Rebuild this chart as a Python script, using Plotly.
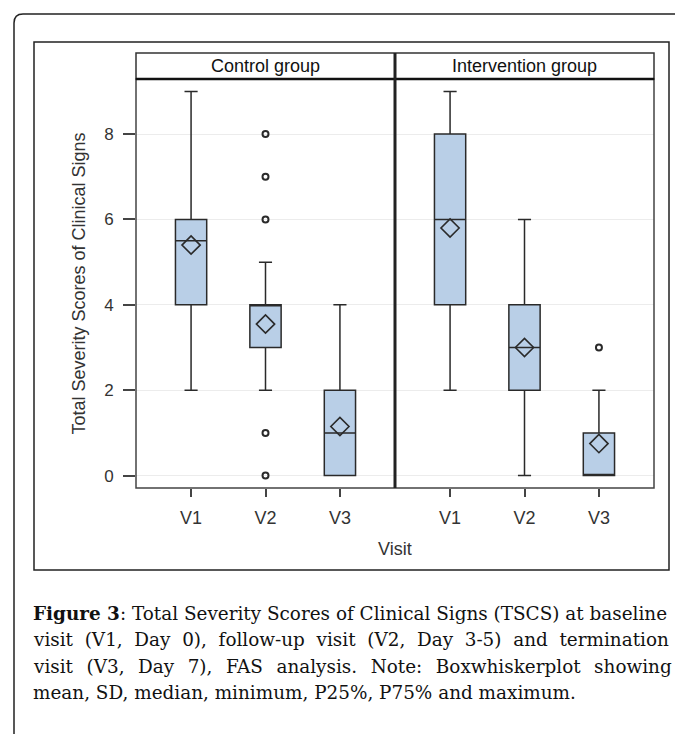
import plotly.graph_objects as go

# ---------------- data ----------------
visits = ["V1", "V2", "V3"]
visit_pos = [1, 2, 3]

ctrl_min = [2, 2, 0]
ctrl_q1 = [4, 3, 0]
ctrl_median = [5.5, 4, 1]
ctrl_q3 = [6, 4, 2]
ctrl_max = [9, 5, 4]
ctrl_mean = [5.4, 3.55, 1.15]
ctrl_out_visit = [2, 2, 2, 2, 2]
ctrl_out_value = [0, 1, 6, 7, 8]

int_min = [2, 0, 0]
int_q1 = [4, 2, 0]
int_median = [6, 3, 0]
int_q3 = [8, 4, 1]
int_max = [9, 6, 2]
int_mean = [5.8, 3.0, 0.75]
int_out_visit = [3]
int_out_value = [3]

y_ticks = [0, 2, 4, 6, 8]
panel_titles = ["Control group", "Intervention group"]

caption_lines = [
    "<b>Figure 3</b>: Total Severity Scores of Clinical Signs (TSCS) at baseline",
    "visit (V1, Day 0), follow-up visit (V2, Day 3-5) and termination",
    "visit (V3, Day 7), FAS analysis. Note: Boxwhiskerplot showing",
    "mean, SD, median, minimum, P25%, P75% and maximum.",
]
# extra word spacing to imitate the justified caption
caption_gap = ["", "\u00a0", "\u00a0\u200a", ""]

# ---------------- styling ----------------
PAGE_OFF = 8            # browser body margin
W, H = 683 - PAGE_OFF, 742 - 2 * PAGE_OFF
L, R, T, B = 136, 654, 79, 488  # plot area in screenshot pixels
pw, ph = R - L, B - T

def px(x):
    return (x - L) / pw

def py(y):
    return (B - y) / ph

BOX_FILL = "#B9CFE7"
LINE = "#2a2a2a"
SANS = "Arial, 'Liberation Sans', sans-serif"
SERIF = "'DejaVu Serif', serif"

fig = go.Figure()

groups = [
    ("x", "y", ctrl_min, ctrl_q1, ctrl_median, ctrl_q3, ctrl_max, ctrl_mean, ctrl_out_visit, ctrl_out_value),
    ("x2", "y2", int_min, int_q1, int_median, int_q3, int_max, int_mean, int_out_visit, int_out_value),
]

for xa, ya, mn, q1, md, q3, mx, mean, ov, oval in groups:
    fig.add_trace(go.Box(
        x=visit_pos, q1=q1, median=md, q3=q3, lowerfence=mn, upperfence=mx,
        xaxis=xa, yaxis=ya, width=0.42, whiskerwidth=0.42,
        fillcolor=BOX_FILL, line=dict(color=LINE, width=1.5),
        boxpoints=False, showlegend=False, hoverinfo="skip",
    ))
    fig.add_trace(go.Scatter(
        x=visit_pos, y=mean, xaxis=xa, yaxis=ya, mode="markers",
        marker=dict(symbol="diamond-open", size=14, color=LINE, line=dict(width=1.6)),
        showlegend=False, hoverinfo="skip",
    ))
    fig.add_trace(go.Scatter(
        x=ov, y=oval, xaxis=xa, yaxis=ya, mode="markers",
        marker=dict(symbol="circle-open", size=6, color=LINE, line=dict(width=2)),
        showlegend=False, hoverinfo="skip",
    ))

xcommon = dict(
    range=[0.26, 3.74], tickvals=visit_pos, ticktext=visits, ticks="outside",
    ticklen=8, tickwidth=1.5, tickcolor="#444", showgrid=False, zeroline=False,
    showline=False, ticklabelstandoff=5,
    tickfont=dict(family=SANS, size=18, color="#333"),
)
ycommon = dict(
    range=[-0.29, 9.29], tickvals=y_ticks, showgrid=True, gridcolor="#ECECEC",
    gridwidth=1, zeroline=False, showline=False,
)

fig.update_layout(
    width=W, height=H,
    margin=dict(l=L - PAGE_OFF, r=W - (R - PAGE_OFF), t=T - PAGE_OFF, b=H - (B - PAGE_OFF), pad=0),
    paper_bgcolor="white", plot_bgcolor="white",
    xaxis=dict(domain=[0, 0.5], anchor="y", **xcommon),
    xaxis2=dict(domain=[0.5, 1], anchor="y2", **xcommon),
    yaxis=dict(domain=[0, 1], anchor="x", ticks="outside", ticklen=12, tickwidth=1.5,
               tickcolor="#444", ticklabelstandoff=6,
               tickfont=dict(family=SANS, size=17, color="#333"), **ycommon),
    yaxis2=dict(domain=[0, 1], anchor="x2", matches="y", showticklabels=False, ticks="", **ycommon),
)

hdr_top = py(53)
shapes = [
    # plot frame
    dict(type="rect", xref="paper", yref="paper", x0=0, x1=1, y0=0, y1=1,
         line=dict(color="#444", width=1.5)),
    # header strip
    dict(type="rect", xref="paper", yref="paper", x0=0, x1=1, y0=1, y1=hdr_top,
         line=dict(color="#333", width=1.5)),
    dict(type="line", xref="paper", yref="paper", x0=0, x1=1, y0=1, y1=1,
         line=dict(color="#111", width=2.5)),
    # divider between panels
    dict(type="line", xref="paper", yref="paper", x0=0.5, x1=0.5, y0=0, y1=hdr_top,
         line=dict(color="#222", width=3)),
    # inner figure frame
    dict(type="rect", xref="paper", yref="paper", x0=px(34), x1=px(669), y0=py(570), y1=py(42),
         line=dict(color="#222", width=1.5)),
]
# outer rounded border (only left and top edges visible)
lx, ty = px(14), py(14)
rx, ry = 9 / pw, 9 / ph
path = f"M {lx},{py(760)} L {lx},{ty - ry} Q {lx},{ty} {lx + rx},{ty} L {px(720)},{ty}"
shapes.append(dict(type="path", xref="paper", yref="paper", path=path,
                   line=dict(color="#222", width=1.5)))
fig.update_layout(shapes=shapes)

ann = []
for i, t in enumerate(panel_titles):
    ann.append(dict(text=t, xref="paper", yref="paper", x=0.25 + 0.5 * i, y=py(66),
                    showarrow=False, xanchor="center", yanchor="middle",
                    font=dict(family=SANS, size=18, color="#111")))
ann.append(dict(text="Visit", xref="paper", yref="paper", x=0.5, y=py(549), showarrow=False,
                xanchor="center", yanchor="middle", font=dict(family=SANS, size=18, color="#333")))
ann.append(dict(text="Total Severity Scores of Clinical Signs", xref="paper", yref="paper",
                x=px(78), y=0.5, textangle=-90, showarrow=False, xanchor="center", yanchor="middle",
                font=dict(family=SANS, size=18, color="#333")))
line_y = [613, 639, 666, 692]
for t, gap, yy in zip(caption_lines, caption_gap, line_y):
    txt = t.replace(" ", " " + gap) if gap else t
    ann.append(dict(text=txt, xref="paper", yref="paper", x=px(31), y=py(yy), showarrow=False,
                    xanchor="left", yanchor="middle", align="left",
                    font=dict(family=SERIF, size=18.4, color="#111")))
fig.update_layout(annotations=ann)

fig.write_html("out.html")
